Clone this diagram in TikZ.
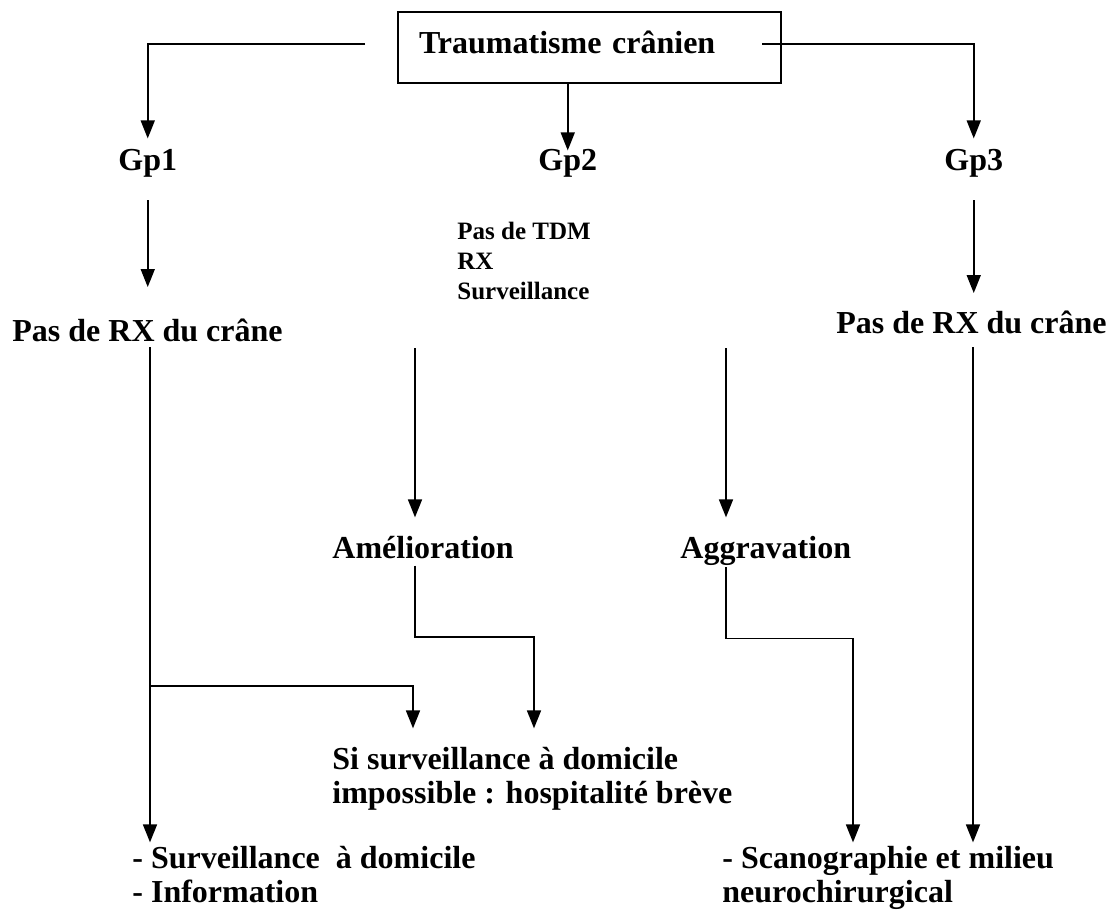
\documentclass[tikz,border=0pt]{standalone}
\usepackage{fontspec}
\setmainfont{Liberation Serif}
\usetikzlibrary{arrows.meta}
\begin{document}
\begin{tikzpicture}[x=0.5pt,y=-0.5pt,
            every node/.style = {inner sep=0pt, anchor=base west, align=left,
                font=\bfseries\fontsize{16}{17}\selectfont},
            small/.style = {font=\bfseries\fontsize{12.5}{15}\selectfont},
            box/.style = {draw, line width=1pt, anchor=north west, align=left,
                text width=170.5pt, inner xsep=10.5pt, inner ysep=9.5pt,
                text height=11pt, text depth=5.5pt},
            link/.style = {line width=0.8pt},
            arr/.style = {link, -{Triangle[width=7pt,length=9pt]}}]
    \useasboundingbox (0,0) rectangle (1115,911);
    \node[box] (trauma) at (397,11) {Traumatisme crânien};
    \node (gp1) at (118,170) {Gp1};
    \node (gp2) at (538,170) {Gp2};
    \node (gp3) at (944,170) {Gp3};
    \node (pasrxl) at (12,341) {Pas de RX du crâne};
    \node (pasrxr) at (836,333) {Pas de RX du crâne};
    \node[small] (gp2info) at (457,299) {Pas de TDM\\RX\\Surveillance};
    \node (amel) at (332,558) {Amélioration};
    \node (aggr) at (680,558) {Aggravation};
    \node (sisurv) at (332,803) {Si surveillance à domicile\\impossible : hospitalité brève};
    \node (survdom) at (132,902) {- Surveillance \ à domicile\\- Information};
    \node (scano) at (722,902) {- Scanographie et milieu\\neurochirurgical};
    \coordinate (lstem) at (150,347);
    \coordinate (lsplit) at (150,686);
    \coordinate (amelcol) at (415,348);
    \coordinate (aggrcol) at (726,348);
    \coordinate (rstem) at (973,347);
    % first level
    \draw[arr, shorten >=5pt] ([shift={(-32,-3.5)}]trauma.west) -| (gp1.north);
    \draw[arr, shorten >=-1pt] (gp2.north |- trauma.south) -- (gp2.north);
    \draw[arr, shorten >=5pt] ([shift={(-20,-3.5)}]trauma.east) -| (gp3.north);
    \draw[arr, shorten <=11.5pt, shorten >=15.5pt] (gp1.south) -- (gp1.south |- pasrxl.north);
    \draw[arr, shorten <=11.5pt, shorten >=8.5pt] (gp3.south) -- (gp3.south |- pasrxr.north);
    % Gp2 branches
    \draw[arr, shorten >=9pt] (amelcol) -- (amelcol |- amel.north);
    \draw[arr, shorten >=9pt] (aggrcol) -- (aggrcol |- aggr.north);
    \draw[arr, shorten >=9pt] ([yshift=-3.5pt]amelcol |- amel.south) -- ++(0,71) -| ([xshift=59.5pt]amelcol |- sisurv.north);
    \draw[arr, shorten >=1.5pt] ([yshift=-1pt]aggrcol |- aggr.south) -- ++(0,71) -| (scano.north -| 853,0);
    % left and right stems
    \draw[arr, shorten >=1.5pt] (lstem) -- (lstem |- survdom.north);
    \draw[arr, shorten >=9pt] (lsplit) -| ([xshift=-1pt]amelcol |- sisurv.north);
    \draw[arr, shorten >=1.5pt] (rstem) -- (rstem |- scano.north);
\end{tikzpicture}
\end{document}
